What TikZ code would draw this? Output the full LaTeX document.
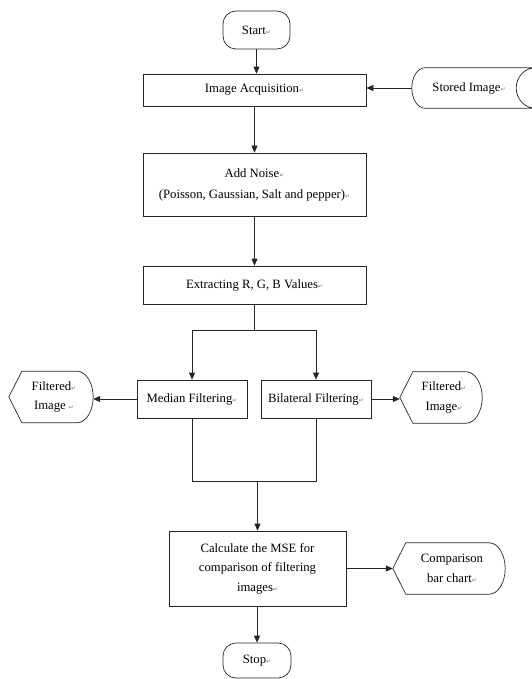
\documentclass[tikz,border=0pt]{standalone}
\usepackage{fontspec}
\setmainfont{Liberation Serif}
\newfontfamily\dvsfont{DejaVu Sans}
\usetikzlibrary{arrows.meta,calc}
\newcommand\retmark{{\dvsfont\fontsize{6}{6}\selectfont\textcolor{black!55}{↵}}}
\begin{document}
\begin{tikzpicture}[x=1pt,y=-1pt,
  every node/.style={font=\fontsize{12.7}{19.5}\selectfont, align=center, inner sep=0pt},
  box/.style={draw=black!85, line width=0.7pt, rectangle},
  term/.style={box, rounded corners=13pt},
  shp/.style={draw=none},
  ln/.style={draw=black!85, line width=0.7pt},
  arr/.style={ln, -{Triangle[length=7pt,width=6pt]}}]
\useasboundingbox (0,0) rectangle (531,679);

% nodes
\node[term, minimum width=67pt, minimum height=38pt] (start) at (256.5,30) {Start\retmark};
\node[box, minimum width=223pt, minimum height=32pt] (acq) at (254.5,90) {Image Acquisition\retmark};
\node[shp, minimum width=114pt, minimum height=40pt] (st) at (469,88) {Stored Image\retmark};
\node[box, minimum width=223pt, minimum height=63pt] (noise) at (254.5,184.5) {Add Noise\retmark\\[1.5pt](Poisson, Gaussian, Salt and pepper)\retmark};
\node[box, minimum width=223pt, minimum height=38pt] (ext) at (254.5,285) {Extracting R, G, B Values\retmark};
\node[box, minimum width=110pt, minimum height=38pt] (med) at (192,399) {Median Filtering\retmark};
\node[box, minimum width=110pt, minimum height=38pt] (bil) at (316,399) {Bilateral Filtering\retmark};
\node[shp, minimum width=84pt, minimum height=51pt] (fl) at (51,397) {\hspace*{6pt}Filtered\retmark\\\hspace*{6pt}Image \retmark};
\node[shp, minimum width=82pt, minimum height=51pt] (fr) at (441,397.5) {\hspace*{6pt}Filtered\retmark\\\hspace*{6pt}Image\retmark};
\node[box, minimum width=177pt, minimum height=75pt] (mse) at (257.5,568.5) {Calculate the MSE for\\comparison of filtering\\images\retmark};
\node[shp, minimum width=112pt, minimum height=51pt] (cmp) at (449,568.5) {\hspace*{6pt}Comparison\\\hspace*{6pt}bar chart\retmark};
\node[term, minimum width=68pt, minimum height=35pt] (stop) at (257,660.5) {Stop\retmark};

% helper coordinates
\coordinate (split) at (254.5,330);
\coordinate (merge) at (257.5,481);

% stored data shape
\draw[ln] ([xshift=13pt]st.north west)
  .. controls ([xshift=5.8pt]st.north west) and ([yshift=11pt]st.west) .. (st.west)
  .. controls ([yshift=-11pt]st.west) and ([xshift=5.8pt]st.south west) .. ([xshift=13pt]st.south west)
  -- ([xshift=9pt]st.south east)
  .. controls ([xshift=-1.5pt]st.south east) and ([xshift=-10pt,yshift=-11pt]st.east) .. ([xshift=-10pt]st.east)
  .. controls ([xshift=-10pt,yshift=11pt]st.east) and ([xshift=-1.5pt]st.north east) .. ([xshift=9pt]st.north east)
  -- cycle;

% display shapes
\foreach \n in {fl,fr,cmp}{
  \draw[ln] (\n.west) -- ([xshift=13pt]\n.north west) -- ([xshift=-16pt]\n.north east)
    .. controls ([xshift=-7.2pt]\n.north east) and ([yshift=14pt]\n.east) .. (\n.east)
    .. controls ([yshift=-14pt]\n.east) and ([xshift=-7.2pt]\n.south east) .. ([xshift=-16pt]\n.south east)
    -- ([xshift=13pt]\n.south west) -- cycle;
}

% connectors
\draw[arr] (start.south) -- (start.south |- acq.north);
\draw[arr] (st.west) -- (st.west -| acq.east);
\draw[arr] (acq.south) -- (noise.north);
\draw[arr] (noise.south) -- (ext.north);
\draw[ln] (ext.south) -- (split);
\draw[ln] (split -| med.north) -- (split -| bil.north);
\draw[arr] (split -| med.north) -- (med.north);
\draw[arr] (split -| bil.north) -- (bil.north);
\draw[arr] (med.west) -- (med.west -| fl.east);
\draw[arr] (bil.east) -- (bil.east -| fr.west);
\draw[ln] (med.south) -- (merge -| med.south) -- (merge -| bil.south) -- (bil.south);
\draw[arr] (merge) -- (mse.north);
\draw[arr] (mse.east) -- (cmp.west);
\draw[arr] (mse.south -| stop.north) -- (stop.north);
\end{tikzpicture}
\end{document}
